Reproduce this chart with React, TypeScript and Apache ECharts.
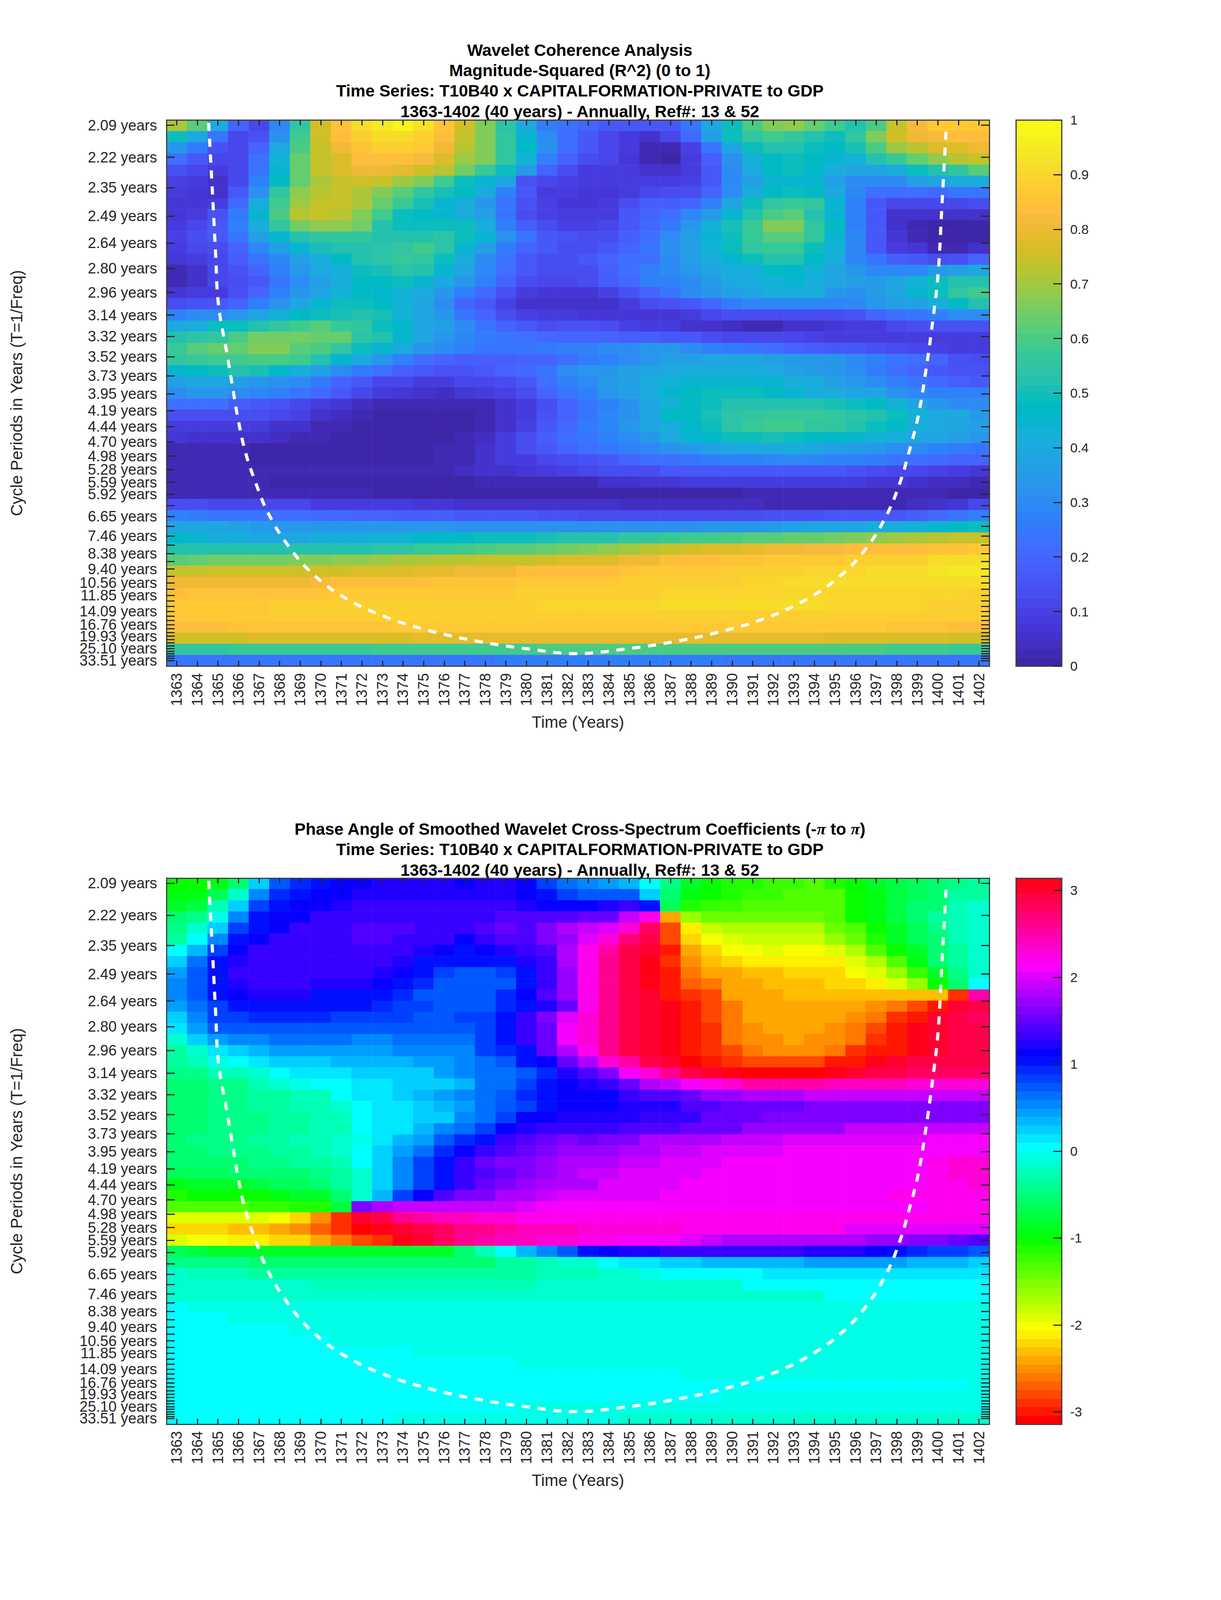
import React, { useEffect, useRef } from "react";
import * as echarts from "echarts";

const years = ["1363","1364","1365","1366","1367","1368","1369","1370","1371","1372","1373","1374","1375","1376","1377","1378","1379","1380","1381","1382","1383","1384","1385","1386","1387","1388","1389","1390","1391","1392","1393","1394","1395","1396","1397","1398","1399","1400","1401","1402"];
const periodLabels = ["2.09","2.22","2.35","2.49","2.64","2.80","2.96","3.14","3.32","3.52","3.73","3.95","4.19","4.44","4.70","4.98","5.28","5.59","5.92","6.27","6.65","7.05","7.46","7.91","8.38","8.88","9.40","9.96","10.56","11.19","11.85","12.55","13.30","14.09","14.93","15.82","16.76","17.76","18.81","19.93","21.11","22.37","23.70","25.10","26.59","28.17","29.85","31.62","33.51"];
const shownPeriods = ["2.09","2.22","2.35","2.49","2.64","2.80","2.96","3.14","3.32","3.52","3.73","3.95","4.19","4.44","4.70","4.98","5.28","5.59","5.92","6.65","7.46","8.38","9.40","10.56","11.85","14.09"];
const extraPeriodGroups = [["16.76","25.10"],["19.93","33.51"]];
const tickFrequencies = [0.477472,0.450674,0.425379,0.401505,0.37897,0.3577,0.337624,0.318675,0.300789,0.283905,0.267972,0.252932,0.238736,0.225337,0.21269,0.200753,0.189485,0.17885,0.168812,0.159338,0.150395,0.141953,0.133986,0.126466,0.119368,0.112668,0.106345,0.100376,0.094743,0.089425,0.084406,0.079669,0.075197,0.070976,0.066993,0.063233,0.059684,0.056334,0.053172,0.050188,0.047371,0.044712,0.042203,0.039835,0.037599,0.035488,0.033497,0.031617,0.029842];
const freqMax = 0.48184;
const freqMin = 0.02509;

const coneYears = [1364.55,1364.73,1364.89,1365.03,1365.43,1365.74,1365.95,1366.32,1366.83,1367.47,1368.4,1369.6,1371.2,1373.19,1375.32,1377.73,1380.13,1382.39,1384.79,1387.19,1389.58,1391.72,1393.72,1395.32,1396.52,1397.45,1398.11,1398.6,1399.05,1399.43,1399.75,1400.01,1400.19,1400.41];
const coneFreq = [0.4795,0.423,0.3697,0.3273,0.2877,0.256,0.2346,0.2053,0.1788,0.1522,0.1263,0.1024,0.082,0.066,0.0546,0.0456,0.0394,0.0356,0.0394,0.0456,0.0546,0.0659,0.082,0.1015,0.1238,0.1494,0.1762,0.2044,0.2346,0.2738,0.3138,0.3532,0.408,0.4763];

// Coherence, in hundredths, one row per cycle period (top to bottom)
const coherenceRows = [
[71,61,40,20,12,29,55,76,85,91,94,97,93,85,76,66,54,40,26,22,19,17,16,16,16,24,38,50,60,66,68,64,58,53,60,75,82,86,86,86],
[50,40,24,12,15,32,58,76,84,88,91,91,89,83,75,67,55,45,30,22,17,12,9,6,11,21,37,50,56,58,56,53,50,56,67,76,80,82,84,84],
[33,26,15,12,19,40,60,74,80,85,88,88,87,81,72,67,56,47,32,22,16,11,8,3,3,10,25,39,49,52,52,50,48,51,60,69,73,77,78,81],
[23,17,11,11,22,43,64,74,78,83,83,83,82,78,70,66,55,43,27,20,14,11,7,3,1,8,18,32,43,48,49,48,44,43,52,57,64,68,72,75],
[15,11,8,12,25,44,64,74,78,80,80,79,76,73,65,57,50,35,20,13,9,9,8,6,5,8,17,30,40,47,49,46,41,38,39,42,49,53,56,62],
[10,8,6,12,27,47,64,71,75,76,74,70,66,58,50,45,38,15,11,10,8,8,8,8,8,10,17,30,36,44,44,44,36,31,30,31,36,39,41,41],
[8,7,6,17,32,55,68,73,74,71,66,62,56,51,47,40,28,16,8,9,7,7,9,12,14,14,20,30,41,47,49,48,40,29,22,22,22,21,24,25],
[7,7,8,21,41,59,70,74,74,71,64,57,51,44,42,34,24,15,10,7,7,9,13,18,18,20,28,39,50,55,57,55,45,28,17,12,12,12,12,13],
[7,9,15,26,45,60,72,74,72,67,58,50,47,44,41,36,24,13,10,8,8,9,16,19,22,29,35,44,52,60,61,53,45,28,16,6,5,5,5,5],
[9,11,16,27,42,55,65,68,68,65,53,50,50,50,50,42,27,18,13,10,10,12,17,21,26,33,43,51,57,66,66,55,47,28,16,6,2,1,1,1],
[10,13,17,24,37,45,52,56,56,55,53,53,53,54,50,45,32,24,17,15,13,13,18,22,30,36,45,50,57,62,62,55,45,29,17,7,3,0,0,0],
[8,11,14,20,29,37,45,51,53,52,54,56,58,54,45,36,26,20,16,14,14,16,20,24,32,37,43,50,55,57,57,50,43,29,17,9,7,3,2,5],
[7,9,12,18,24,29,37,42,48,52,54,57,55,49,41,31,24,17,14,14,17,19,23,23,31,36,41,45,50,52,52,47,41,29,24,18,16,14,15,19],
[2,5,11,15,20,27,33,40,41,49,51,54,52,45,38,29,22,16,13,13,13,18,22,27,30,33,38,41,41,48,46,43,38,34,29,29,29,35,37,40],
[2,6,11,13,17,25,31,36,41,47,48,50,45,40,34,28,20,14,12,11,14,18,21,27,27,31,35,40,41,43,44,42,39,37,35,39,43,49,53,53],
[7,8,9,15,20,27,33,38,43,47,46,43,40,34,27,21,15,9,7,7,7,10,15,20,25,30,33,36,39,41,42,41,34,32,35,39,45,50,55,58],
[14,15,16,20,27,32,39,45,49,49,48,43,38,31,20,16,10,6,5,5,5,6,9,14,15,16,20,26,29,29,29,29,29,29,33,36,37,41,47,52],
[28,30,31,33,38,43,47,49,51,52,51,43,39,33,25,19,14,10,9,8,7,7,7,7,7,9,12,14,14,14,14,14,14,15,19,22,25,27,30,30],
[40,41,49,50,53,55,58,61,57,55,50,46,39,36,30,25,19,16,14,15,15,14,10,9,8,5,5,4,3,3,5,5,7,9,9,11,14,15,15,15],
[53,54,55,60,65,65,65,64,63,54,52,44,39,34,29,26,24,22,21,20,20,19,18,18,17,17,14,12,12,11,11,10,9,9,9,9,9,8,8,8],
[57,61,63,63,66,66,62,60,56,49,44,40,33,30,27,25,24,24,26,28,28,30,31,33,33,30,28,26,24,22,20,18,17,17,15,14,12,10,8,8],
[56,57,58,58,60,60,58,52,45,40,34,28,23,20,18,18,18,19,20,23,26,28,30,33,36,37,38,38,38,37,35,34,33,30,28,25,22,19,15,13],
[45,47,50,52,51,46,42,36,30,26,22,18,16,15,15,17,19,21,25,30,33,34,36,38,40,42,42,42,41,40,36,35,33,30,26,22,19,17,15,15],
[36,38,38,36,34,32,30,26,19,16,12,11,9,9,11,12,14,17,23,27,30,35,37,42,43,45,45,45,44,44,42,41,37,33,31,28,25,21,18,17],
[31,33,34,31,29,27,24,21,17,12,9,7,5,4,7,9,10,14,19,24,28,33,37,42,44,48,50,50,50,48,44,42,41,39,38,32,29,28,28,28],
[23,23,23,18,17,15,11,9,7,4,3,2,2,2,2,3,5,9,14,19,24,28,32,38,43,47,50,52,52,52,52,52,51,49,47,43,38,34,31,30],
[14,14,14,14,13,11,10,6,4,3,1,1,1,1,0,3,5,9,15,20,25,29,32,38,47,48,51,54,55,57,57,57,56,54,52,50,43,40,40,35],
[9,9,8,8,8,6,5,3,2,1,1,0,0,0,1,3,6,10,16,21,26,29,33,38,42,46,50,54,57,58,58,56,55,53,50,47,42,40,39,36],
[7,6,6,5,5,4,3,2,1,0,0,0,0,0,2,4,8,13,18,22,24,27,30,34,40,44,46,50,50,51,50,48,46,44,43,42,39,39,36,34],
[2,2,2,2,0,0,0,0,0,0,0,0,1,2,3,5,9,13,16,19,22,24,27,29,32,34,36,39,40,40,41,39,37,35,33,31,30,28,26,25],
[3,3,3,3,1,1,0,0,0,0,0,0,1,2,3,6,8,8,11,13,15,17,19,22,23,25,26,27,28,29,29,29,28,27,26,24,22,21,20,19],
[3,3,3,3,3,2,2,2,2,2,2,2,3,3,4,5,5,7,9,10,12,13,13,14,16,16,17,17,17,17,17,16,16,15,14,12,11,10,9,7],
[2,2,2,2,2,1,1,1,1,1,1,1,1,1,1,2,2,2,3,3,3,5,5,7,7,8,8,8,9,9,9,9,9,9,7,7,5,4,4,2],
[3,3,3,3,3,2,2,2,2,2,1,1,0,0,0,0,0,0,0,0,0,0,0,0,1,1,1,1,2,2,2,2,2,2,2,2,2,2,1,1],
[14,14,12,12,11,11,11,9,9,9,9,9,7,7,6,6,6,5,5,5,5,5,4,4,4,4,4,4,4,3,3,3,3,3,3,3,4,5,7,12],
[27,26,25,25,24,22,22,21,21,20,20,18,18,18,17,16,16,16,15,15,14,14,14,14,14,14,14,14,14,15,15,15,16,17,17,17,18,21,24,27],
[39,39,38,37,35,33,33,33,33,33,33,33,33,33,32,32,32,32,32,32,32,32,32,32,32,32,33,33,34,35,36,38,38,39,41,42,43,45,47,50],
[46,44,42,41,40,39,39,41,41,41,43,43,46,47,47,49,49,50,51,52,52,53,55,56,57,58,58,60,62,62,64,64,65,66,68,69,71,73,74,75],
[52,52,52,52,52,52,52,52,53,53,54,54,57,57,59,60,62,62,63,65,66,68,70,72,74,76,77,78,79,80,81,82,82,83,83,84,84,85,85,86],
[62,64,65,65,65,65,66,66,68,68,69,71,71,72,73,74,74,75,76,77,78,78,80,80,83,83,83,85,85,87,87,87,87,88,88,88,89,91,91,91],
[75,75,76,76,76,76,76,76,76,78,78,78,79,79,80,81,81,83,83,83,84,84,85,86,86,87,87,88,88,89,89,90,90,90,91,91,91,93,94,94],
[81,81,81,81,81,81,81,82,83,83,83,84,84,85,85,85,85,86,86,87,87,87,88,88,89,89,89,89,90,90,91,91,91,91,91,91,91,91,91,91],
[84,85,85,85,85,85,85,85,86,86,86,86,86,87,87,87,87,88,88,89,89,89,89,89,90,90,90,90,90,90,90,90,90,90,90,90,90,90,90,89],
[87,87,87,87,87,88,88,88,88,88,88,88,88,89,89,89,89,89,90,90,90,90,90,90,91,91,91,91,91,91,91,91,90,90,90,90,90,89,89,89],
[87,87,87,87,87,88,88,88,88,88,88,88,88,89,89,89,89,89,89,89,89,89,89,89,89,89,89,89,89,89,89,89,89,89,89,88,88,88,88,88],
[84,84,84,85,85,85,85,85,85,85,85,86,86,86,86,86,86,86,86,86,86,86,86,86,86,86,86,86,86,86,86,86,86,86,86,85,85,85,84,84],
[76,76,76,76,77,77,77,78,78,78,78,78,79,79,79,79,79,79,79,79,79,79,79,79,79,79,79,79,79,79,79,79,78,78,78,78,78,77,76,76],
[56,56,56,57,57,57,57,57,57,57,58,58,59,59,59,59,59,59,60,60,60,60,60,60,60,60,60,60,60,60,60,60,60,60,60,59,59,59,57,57],
[24,24,24,24,24,24,24,24,24,25,25,25,25,25,25,25,26,26,26,26,26,26,26,26,26,26,26,25,25,25,25,25,25,25,25,25,25,25,25,25],
];

// Phase angle in radians, one row per cycle period (top to bottom)
const phaseRows = [
[-1,-1,-.9,-.5,.2,.7,.95,1.05,1.15,1.15,1.25,1.25,1.25,1.2,1.15,1.2,1.25,1.15,.85,.6,.5,.4,.3,.02,-.45,-.85,-1,-1.1,-1.15,-1.2,-1.2,-1.3,-1.15,-1,-.85,-.7,-.6,-.55,-.45,-.35],
[-.9,-.9,-.6,-.1,.55,.95,1.05,1.15,1.15,1.25,1.25,1.25,1.25,1.25,1.25,1.25,1.25,1.15,1.05,.8,.75,.75,.75,.25,-.5,-.95,-1.05,-1.15,-1.25,-1.25,-1.35,-1.35,-1.3,-1.05,-.95,-.7,-.6,-.5,-.35,-.3],
[-.8,-.7,-.25,.25,.8,1.05,1.15,1.15,1.25,1.3,1.3,1.3,1.3,1.3,1.3,1.3,1.3,1.2,1.15,1.15,1.15,1.2,1.3,1.05,-.6,-1.15,-1.25,-1.25,-1.35,-1.35,-1.35,-1.35,-1.3,-1.05,-.95,-.7,-.55,-.5,-.25,-.15],
[-.5,-.4,-.05,.55,1.05,1.15,1.15,1.3,1.3,1.3,1.35,1.35,1.3,1.3,1.3,1.3,1.4,1.4,1.4,1.45,1.5,1.55,1.9,2.2,-2.4,-1.65,-1.45,-1.45,-1.45,-1.45,-1.45,-1.45,-1.35,-1.05,-.95,-.7,-.55,-.35,-.2,-.15],
[-.45,-.15,.25,.8,1.05,1.15,1.3,1.3,1.3,1.4,1.4,1.4,1.3,1.3,1.3,1.4,1.5,1.45,1.65,1.8,1.9,2,2.35,2.75,-2.75,-2.1,-1.8,-1.7,-1.7,-1.7,-1.7,-1.7,-1.45,-1.3,-1.05,-.85,-.6,-.4,-.2,-.15],
[-.3,.02,.5,1.05,1.15,1.3,1.3,1.3,1.3,1.45,1.45,1.35,1.35,1.35,1.1,1.3,1.4,1.4,1.6,1.7,2.05,2.35,2.7,2.9,-2.75,-2.25,-2,-1.9,-1.8,-1.8,-1.8,-1.8,-1.65,-1.4,-1.15,-.85,-.65,-.5,-.25,-.15],
[.02,.35,.85,1.15,1.3,1.3,1.3,1.3,1.3,1.3,1.3,1.3,1.2,1.15,1.05,1.1,1.2,1.3,1.45,1.8,2.25,2.55,2.85,3,-2.95,-2.45,-2.25,-2.05,-2.05,-1.95,-2.05,-2.05,-1.95,-1.75,-1.35,-1.05,-.8,-.55,-.35,-.15],
[.2,.6,1,1.2,1.3,1.3,1.3,1.3,1.3,1.3,1.3,1.2,1.05,1,1,1,1,1.2,1.35,1.8,2.2,2.6,2.85,3.14,-2.85,-2.55,-2.35,-2.25,-2.1,-2.1,-2.1,-2.1,-2.1,-1.9,-1.75,-1.35,-.9,-.55,-.35,-.15],
[.4,.75,1.05,1.3,1.35,1.35,1.35,1.35,1.35,1.35,1.25,1.1,1,.85,.75,.75,.8,1.05,1.3,1.75,2.2,2.6,2.85,3.14,-3,-2.6,-2.45,-2.4,-2.3,-2.3,-2.2,-2.2,-2.2,-2.05,-1.9,-1.6,-1.2,-.8,-.4,-.15],
[.5,.75,1.05,1.25,1.35,1.35,1.35,1.25,1.25,1.25,1.15,1.05,.9,.7,.7,.7,.75,1.05,1.3,1.75,2.2,2.6,2.85,3.05,-2.95,-2.7,-2.6,-2.45,-2.4,-2.35,-2.35,-2.35,-2.2,-2.2,-2.1,-1.95,-1.6,-1.05,-.5,.02],
[.5,.75,1.05,1.1,1.25,1.25,1.25,1.05,1.05,1.05,1,.9,.75,.7,.7,.7,.9,1.15,1.45,1.75,2.2,2.6,2.85,2.95,-3,-2.85,-2.75,-2.45,-2.4,-2.4,-2.3,-2.3,-2.3,-2.3,-2.3,-2.3,-2.3,-2.3,-2.9,2.5],
[.4,.65,.8,1.05,1.05,1.05,1.05,1.05,1.05,1.05,.95,.8,.8,.75,.75,.75,.95,1.05,1.25,1.5,2.2,2.6,2.85,3,3.14,-2.95,-2.75,-2.6,-2.45,-2.4,-2.4,-2.4,-2.4,-2.4,-2.55,-2.65,-2.8,-3,3,2.9],
[.25,.5,.8,.85,.95,.95,.95,.95,.85,.85,.85,.85,.7,.7,.8,.85,1.05,1.3,1.6,2,2.3,2.6,2.85,3,3.14,-2.95,-2.75,-2.6,-2.45,-2.4,-2.4,-2.4,-2.4,-2.5,-2.65,-2.9,-3,2.95,2.85,2.8],
[.1,.45,.7,.7,.7,.7,.7,.7,.7,.7,.7,.7,.7,.7,.75,.85,1.05,1.3,1.55,2.1,2.3,2.6,2.85,3,3.14,-2.95,-2.85,-2.65,-2.5,-2.4,-2.4,-2.4,-2.55,-2.65,-2.75,-2.95,3.14,2.95,2.85,2.85],
[-.15,.25,.45,.55,.55,.6,.6,.6,.6,.5,.5,.6,.6,.65,.65,.85,1,1.3,1.55,2.1,2.3,2.6,2.85,3,3.14,-2.95,-2.85,-2.65,-2.55,-2.55,-2.45,-2.55,-2.55,-2.65,-2.85,-3,3.14,2.95,2.85,2.85],
[-.3,-.1,.1,.25,.3,.45,.45,.45,.45,.45,.45,.5,.5,.55,.55,.8,.9,1.05,1.55,1.85,2.2,2.6,2.85,2.95,3.14,-2.95,-2.85,-2.75,-2.65,-2.55,-2.55,-2.55,-2.65,-2.9,-2.95,-3,3.14,2.95,2.85,2.85],
[-.3,-.2,-.05,.02,.15,.2,.2,.2,.3,.3,.3,.3,.4,.4,.5,.6,.7,1,1.1,1.55,1.85,2.3,2.55,2.85,3,-3.05,-2.95,-2.85,-2.75,-2.75,-2.75,-2.75,-2.95,-3,3.14,2.95,2.9,2.9,2.9,2.85],
[-.45,-.4,-.25,-.2,-.15,.02,.1,.1,.1,.2,.2,.25,.25,.4,.5,.6,.65,.7,.95,1.25,1.4,1.65,2.1,2.35,2.65,2.85,3,3.14,-3.05,-3.05,-3.05,-3.05,3.14,2.95,2.85,2.85,2.75,2.75,2.75,2.75],
[-.55,-.55,-.4,-.4,-.25,-.15,-.02,.02,.08,.1,.1,.2,.2,.28,.35,.6,.65,.85,1,1.1,1.25,1.3,1.5,1.85,1.95,2.1,2.25,2.35,2.5,2.55,2.55,2.55,2.4,2.4,2.4,2.4,2.35,2.35,2.35,2.35],
[-.55,-.55,-.45,-.45,-.35,-.35,-.25,-.25,.02,.1,.1,.2,.35,.4,.5,.65,.7,.9,1,1.15,1.1,1.15,1.35,1.45,1.45,1.55,1.7,1.7,1.85,1.85,1.85,1.9,1.95,1.95,1.95,1.95,1.95,1.95,1.95,1.95],
[-.55,-.55,-.45,-.45,-.35,-.35,-.25,-.25,-.1,.02,.1,.1,.2,.35,.45,.65,.7,.85,1.05,1.15,1.1,1.15,1.25,1.25,1.25,1.4,1.4,1.5,1.5,1.5,1.5,1.6,1.6,1.6,1.6,1.6,1.6,1.6,1.6,1.6],
[-.55,-.55,-.45,-.45,-.4,-.3,-.3,-.2,-.2,.02,.1,.15,.2,.25,.5,.6,.85,1.1,1.15,1.2,1.2,1.25,1.25,1.35,1.35,1.35,1.5,1.5,1.5,1.6,1.6,1.6,1.6,1.6,1.6,1.6,1.6,1.6,1.6,1.6],
[-.55,-.55,-.45,-.45,-.4,-.3,-.3,-.2,-.2,.02,.1,.15,.3,.5,.65,.8,1.1,1.2,1.3,1.35,1.35,1.35,1.45,1.45,1.45,1.55,1.55,1.55,1.75,1.75,1.75,1.75,1.75,1.9,1.9,1.9,1.9,1.9,1.9,1.9],
[-.5,-.45,-.4,-.4,-.35,-.3,-.2,-.2,-.1,-.05,.1,.3,.45,.7,.95,1.05,1.3,1.45,1.55,1.65,1.5,1.65,1.65,1.8,1.8,1.8,1.8,1.95,1.95,1.95,2.05,2.05,2.05,2.05,2.05,2.05,2.05,2.1,2.1,2.1],
[-.5,-.5,-.45,-.45,-.4,-.35,-.3,-.25,-.15,.02,.25,.4,.6,.9,1.1,1.3,1.45,1.55,1.6,1.7,1.7,1.75,1.8,1.85,1.9,1.9,2,2.05,2.05,2.05,2.1,2.1,2.1,2.1,2.1,2.1,2.1,2.1,2.15,2.15],
[-.55,-.55,-.5,-.5,-.45,-.45,-.35,-.3,-.2,.02,.2,.5,.8,1.05,1.3,1.5,1.6,1.65,1.75,1.8,1.85,1.85,1.9,1.95,2,2,2.05,2.1,2.1,2.1,2.1,2.1,2.1,2.1,2.1,2.15,2.15,2.2,2.3,2.3],
[-.65,-.6,-.6,-.55,-.55,-.5,-.5,-.45,-.3,-.1,.25,.55,.8,1.05,1.3,1.4,1.55,1.65,1.7,1.85,1.9,1.9,2,2,2.05,2.05,2.1,2.1,2.1,2.1,2.1,2.15,2.15,2.15,2.15,2.15,2.15,2.2,2.3,2.3],
[-.9,-.85,-.85,-.8,-.75,-.65,-.6,-.55,-.35,-.1,.2,.5,.8,1.05,1.3,1.5,1.6,1.7,1.8,1.85,1.85,2,2,2.05,2.05,2.1,2.1,2.1,2.1,2.1,2.1,2.1,2.1,2.15,2.15,2.15,2.15,2.2,2.2,2.35],
[-1.1,-1.05,-1.05,-1,-1,-.9,-.85,-.8,-.5,-.1,.3,.8,1.1,1.45,1.6,1.65,1.85,1.85,1.9,2,2,2,2,2.05,2.1,2.15,2.15,2.15,2.15,2.15,2.15,2.15,2.15,2.15,2.15,2.2,2.2,2.2,2.25,2.25],
[-1.35,-1.35,-1.35,-1.3,-1.25,-1.2,-1.1,-1.1,-.7,1.6,1.85,1.95,1.95,1.95,1.95,1.95,1.95,2.05,2.1,2.1,2.1,2.1,2.1,2.1,2.1,2.1,2.1,2.1,2.1,2.1,2.1,2.1,2.1,2.15,2.15,2.15,2.15,2.2,2.25,2.25],
[-1.95,-1.95,-1.95,-1.95,-1.95,-2.05,-2.25,-2.55,-2.85,3,2.85,2.65,2.5,2.45,2.4,2.35,2.35,2.25,2.25,2.2,2.2,2.2,2.2,2.2,2.2,2.2,2.2,2.2,2.2,2.2,2.2,2.2,2.2,2.2,2.2,2.2,2.2,2.2,2.2,2.2],
[-2.25,-2.25,-2.25,-2.35,-2.35,-2.45,-2.55,-2.7,-2.85,-3.05,3.14,3,2.85,2.75,2.65,2.6,2.5,2.45,2.45,2.4,2.35,2.35,2.3,2.3,2.3,2.25,2.2,2.2,2.2,2.2,2.2,2.2,2.2,2,2,2,2,2,2,2],
[-1.95,-2,-2.05,-2.1,-2.1,-2.2,-2.25,-2.4,-2.6,-2.75,-2.9,3.14,3,2.8,2.65,2.55,2.45,2.4,2.35,2.3,2.25,2.2,2.15,2.1,2.1,2,1.95,1.85,1.85,1.85,1.85,1.85,1.85,1.85,1.75,1.75,1.65,1.6,1.5,1.45],
[-.65,-.75,-.8,-.8,-.85,-.85,-.85,-.85,-.85,-.85,-.85,-.8,-.8,-.8,-.55,-.2,.02,.3,.55,.75,1.05,1.1,1.2,1.2,1.3,1.3,1.3,1.3,1.3,1.3,1.3,1.25,1.2,1.2,1.15,1.05,.95,.85,.8,.7],
[-.4,-.45,-.45,-.45,-.5,-.5,-.5,-.5,-.5,-.5,-.5,-.5,-.5,-.5,-.5,-.5,-.3,-.3,-.25,-.15,-.1,.02,.1,.15,.25,.25,.3,.3,.35,.35,.35,.4,.4,.45,.45,.45,.35,.35,.3,.2],
[-.15,-.2,-.2,-.2,-.3,-.3,-.3,-.3,-.3,-.3,-.35,-.35,-.35,-.35,-.35,-.35,-.3,-.3,-.25,-.2,-.2,-.1,-.1,-.05,.02,.02,.05,.05,.05,.1,.1,.1,.15,.15,.15,.15,.15,.15,.15,.1],
[-.15,-.15,-.15,-.15,-.15,-.15,-.15,-.25,-.25,-.25,-.25,-.25,-.25,-.25,-.25,-.25,-.25,-.25,-.15,-.15,-.15,-.15,-.15,-.15,-.15,-.15,-.15,-.1,.02,.02,.02,.02,.02,.02,.02,.02,.02,.02,.02,.02],
[-.1,-.1,-.1,-.1,-.1,-.1,-.1,-.1,-.1,-.1,-.1,-.1,-.1,-.1,-.1,-.1,-.1,-.1,-.1,-.1,-.1,-.1,-.1,-.1,-.1,-.1,-.1,-.1,-.1,-.1,-.1,-.1,.02,.02,.02,.02,.02,.02,.02,.02],
[.02,-.05,-.05,-.05,-.05,-.05,-.05,-.05,-.05,-.05,-.05,-.05,-.05,-.05,-.05,-.05,-.05,-.05,-.05,-.05,-.05,-.05,-.05,-.05,-.05,-.05,-.05,-.05,-.05,-.05,-.05,-.05,-.05,-.05,-.05,-.05,-.05,-.05,-.05,-.05],
[.02,.02,.02,-.05,-.05,-.05,-.05,-.05,-.05,-.05,-.05,-.05,-.05,-.05,-.05,-.05,-.05,-.05,-.05,-.05,-.05,-.05,-.05,-.05,-.05,-.05,-.05,-.05,-.05,-.05,-.05,-.05,-.05,-.05,-.05,-.05,-.05,-.05,-.05,-.05],
[.02,.02,.02,.02,.02,.02,-.05,-.05,-.05,-.05,-.05,-.05,-.05,-.05,-.05,-.05,-.05,-.05,-.05,-.05,-.05,-.05,-.05,-.05,-.05,-.05,-.05,-.05,-.05,-.05,-.05,-.05,-.05,-.05,-.05,-.05,-.05,-.05,-.05,-.05],
[.02,.02,.02,.02,.02,.02,.02,.02,-.05,-.05,-.05,-.05,-.05,-.05,-.05,-.05,-.05,-.05,-.05,-.05,-.05,-.05,-.05,-.05,-.05,-.05,-.05,-.05,-.05,-.05,-.05,-.05,-.05,-.05,-.05,-.05,-.05,-.05,-.05,-.05],
[.02,.02,.02,.02,.02,.02,.02,.02,.02,.02,.02,.02,-.05,-.05,-.05,-.05,-.05,-.05,-.05,-.05,-.05,-.05,-.05,-.05,-.05,-.05,-.05,-.05,-.05,-.05,-.05,-.05,-.05,-.05,-.05,-.05,-.05,-.05,-.05,-.05],
[.02,.02,.02,.02,.02,.02,.02,.02,.02,.02,.02,.02,.02,.02,.02,.02,.02,-.05,-.05,-.05,-.05,-.05,-.05,-.05,-.05,-.05,-.05,-.05,-.05,-.05,-.05,-.05,-.05,-.05,-.05,-.05,-.05,-.05,-.05,-.05],
[.02,.02,.02,.02,.02,.02,.02,.02,.02,.02,.02,.02,.02,.02,.02,.02,.02,.02,.02,.02,.02,.02,.02,.02,.02,-.05,-.05,-.05,-.05,-.05,-.05,-.05,-.05,-.05,-.05,-.05,-.05,-.05,-.05,-.05],
[.02,.02,.02,.02,.02,.02,.02,.02,.02,.02,.02,.02,.02,.02,.02,.02,.02,.02,.02,.02,.02,.02,.02,.02,.02,.02,.02,.02,.02,.02,.02,.02,.02,.02,.02,.02,.02,.02,.02,-.05],
[.02,.02,.02,.02,.02,.02,.02,.02,.02,.02,.02,.02,.02,.02,.02,.02,.02,.02,.02,.02,.02,.02,.02,.02,.02,.02,.02,-.05,-.05,-.05,-.05,-.05,-.05,-.05,-.05,-.05,-.05,-.05,-.05,-.05],
[.02,.02,.02,.02,.02,.02,.02,.02,.02,.02,.02,.02,.02,.02,.02,.02,.02,-.05,-.05,-.05,-.05,-.05,-.05,-.05,-.05,-.05,-.05,-.05,-.05,-.05,-.05,-.05,-.05,-.05,-.05,-.05,-.05,-.05,-.05,-.05],
[.02,.02,.02,.02,.02,.02,.02,.02,.02,.02,.02,-.05,-.05,-.05,-.05,-.05,-.05,-.05,-.05,-.05,-.05,-.05,-.15,-.15,-.15,-.15,-.15,-.15,-.15,-.15,-.15,-.15,-.15,-.15,-.15,-.15,-.15,-.15,-.15,-.15],
];

const parulaRgb = [
[.2422,.1504,.6603],[.2504,.165,.7076],[.2578,.1818,.7511],[.2647,.1978,.7952],[.2706,.2147,.8364],[.2751,.2342,.871],[.2783,.2559,.8991],[.2803,.2782,.9221],
[.2813,.3006,.9414],[.281,.3228,.9579],[.2795,.3447,.9717],[.276,.3667,.9829],[.2699,.3892,.9906],[.2602,.4123,.9952],[.244,.4358,.9988],[.2206,.4603,.9973],
[.1963,.4847,.9892],[.1834,.5074,.9798],[.1786,.5289,.9682],[.1764,.5499,.952],[.1687,.5703,.9359],[.154,.5902,.9218],[.146,.6091,.9079],[.138,.6276,.8973],
[.1248,.6459,.8883],[.1113,.6635,.8763],[.0952,.6798,.8598],[.0689,.6948,.8394],[.0297,.7082,.8163],[.0036,.7203,.7917],[.0067,.7312,.766],[.0433,.7411,.7394],
[.0964,.75,.712],[.1408,.7584,.6842],[.1717,.767,.6554],[.1938,.7758,.6251],[.2161,.7843,.5923],[.247,.7918,.5567],[.2906,.7973,.5188],[.3406,.8008,.4789],
[.3909,.8029,.4354],[.4456,.8024,.3909],[.5044,.7993,.348],[.5616,.7942,.3045],[.6174,.7876,.2612],[.672,.7793,.2227],[.7242,.7698,.191],[.7738,.7598,.1646],
[.8203,.7498,.1535],[.8634,.7406,.1596],[.9035,.733,.1774],[.9393,.7288,.21],[.9728,.7298,.2394],[.9956,.7434,.2371],[.997,.7659,.2199],[.9952,.7893,.2028],
[.9892,.8136,.1885],[.9786,.8386,.1766],[.9676,.8639,.1643],[.961,.889,.1537],[.9597,.9135,.1423],[.9628,.9373,.1265],[.9691,.9606,.1064],[.9769,.9839,.0805],
];
const parulaColors = parulaRgb.map((c) => `rgb(${c.map((v) => Math.round(v * 255)).join(",")})`);
const hsvColors = parulaRgb.map((_, i) => `hsl(${(i * 360) / 64},100%,50%)`);

const FONT = '"Liberation Sans", Arial, sans-serif';
const INK = "#262626";
const LEVELS = 64;
const FULL_HEIGHT = 6252;
const PLOT_LEFT = 426;
const PLOT_WIDTH = 2106;
const BAR_LEFT = 2600;
const BAR_WIDTH = 117;
const CENTER_X = PLOT_LEFT + PLOT_WIDTH / 2;

function nearestPeriod(v: number) {
  let best = 0;
  tickFrequencies.forEach((f, i) => {
    if (Math.abs(f - v) < Math.abs(tickFrequencies[best] - v)) best = i;
  });
  return `${periodLabels[best]} years`;
}

function addPanel(o: any, sy: number, top: number, rows: number[][], colors: string[], lo: number, hi: number, barTicks: number[]) {
  const plotHeight = 2134 * sy;
  const frame = { show: true, onZero: false, lineStyle: { color: "#404040", width: 3 } };
  const tick = { show: true, inside: true, length: 21, lineStyle: { color: INK, width: 3 } };
  const xTick = { ...tick, length: 21 * sy };
  const label = { color: INK, fontFamily: FONT, fontSize: 58 * sy };
  const noTick = { show: false };
  const noLabel = { show: false };
  const noSplit = { show: false };
  const g = o.grid.length;
  const plotRect = { left: PLOT_LEFT, top, width: PLOT_WIDTH, height: plotHeight };
  const barRect = { left: BAR_LEFT, top, width: BAR_WIDTH, height: plotHeight };
  o.grid.push({ ...plotRect }, { ...plotRect }, { ...barRect }, { ...barRect });
  const xi = o.xAxis.length;
  const yi = o.yAxis.length;
  const barCats = colors.map((_, i) => String(i));
  const frameAxis = (gridIndex: number, min: number, max: number, position: string) => ({
    type: "value", gridIndex, min, max, position, z: 10,
    axisLine: frame, axisTick: noTick, axisLabel: noLabel, splitLine: noSplit,
  });
  const periodFreqs = (list: string[]) => tickFrequencies.filter((_, i) => list.includes(periodLabels[i]));
  o.xAxis.push(
    {
      type: "category", gridIndex: g, data: years, position: "bottom", z: 10,
      axisLine: frame,
      axisTick: { ...xTick, alignWithLabel: true, interval: 0 },
      axisLabel: { ...label, interval: 0, rotate: 90, margin: 27 * sy },
      splitLine: noSplit,
      name: "Time (Years)", nameLocation: "middle", nameGap: 187 * sy,
      nameTextStyle: { color: INK, fontFamily: FONT, fontSize: 64 * sy },
    },
    { type: "value", gridIndex: g + 1, min: 1362.5, max: 1402.5, position: "bottom", show: false },
    {
      type: "value", gridIndex: g + 1, min: 1362.5, max: 1402.5, position: "top", z: 10,
      axisLine: frame,
      axisTick: { ...xTick, customValues: years.map(Number) },
      axisLabel: noLabel, splitLine: noSplit,
    },
    { type: "category", gridIndex: g + 2, data: ["bar"], show: false },
    frameAxis(g + 3, 0, 1, "bottom"),
    frameAxis(g + 3, 0, 1, "top")
  );
  o.yAxis.push(
    { type: "category", gridIndex: g, data: periodLabels, inverse: true, show: false },
    {
      type: "value", gridIndex: g + 1, min: freqMin, max: freqMax, position: "left", z: 10,
      axisLine: frame,
      axisTick: { ...tick, customValues: tickFrequencies },
      axisLabel: {
        ...label, margin: 24,
        customValues: periodFreqs(shownPeriods),
        formatter: (v: number) => nearestPeriod(v),
      },
      splitLine: noSplit,
      name: "Cycle Periods in Years (T=1/Freq)", nameLocation: "middle", nameGap: 383 - 32 * sy,
      nameTextStyle: { color: INK, fontFamily: FONT, fontSize: 64 * sy },
    },
    {
      type: "value", gridIndex: g + 1, min: freqMin, max: freqMax, position: "right", z: 10,
      axisLine: frame,
      axisTick: { ...tick, customValues: tickFrequencies },
      axisLabel: noLabel, splitLine: noSplit,
    },
    { type: "category", gridIndex: g + 2, data: barCats, show: false },
    frameAxis(g + 3, lo, hi, "left"),
    {
      type: "value", gridIndex: g + 3, min: lo, max: hi, position: "right", z: 10,
      axisLine: frame,
      axisTick: { ...tick, customValues: barTicks },
      axisLabel: { ...label, fontSize: 52 * sy, margin: 22, customValues: barTicks, lineHeight: 40 * sy, formatter: (v: number) => String(v) },
      splitLine: noSplit,
    }
  );
  extraPeriodGroups.forEach((group) => {
    const extra = o.grid.length;
    o.grid.push({ ...plotRect });
    o.xAxis.push({ type: "value", gridIndex: extra, min: 0, max: 1, position: "bottom", show: false });
    o.yAxis.push({
      type: "value", gridIndex: extra, min: freqMin, max: freqMax, position: "left", z: 10,
      axisLine: { show: false }, axisTick: noTick, splitLine: noSplit,
      axisLabel: { ...label, margin: 24, customValues: periodFreqs(group), formatter: (v: number) => nearestPeriod(v) },
    });
  });
  const s = o.series.length;
  const step = (hi - lo) / LEVELS;
  o.series.push(
    {
      type: "heatmap", xAxisIndex: xi, yAxisIndex: yi,
      data: rows.flatMap((row, r) => row.map((v, c) => [c, r, v])),
      itemStyle: { borderWidth: 0 }, emphasis: { disabled: true }, z: 2,
    },
    {
      type: "line", xAxisIndex: xi + 1, yAxisIndex: yi + 1, smooth: 0.4, showSymbol: false, z: 12,
      data: coneYears.map((y, i) => [y, coneFreq[i]]),
      lineStyle: { color: "#ffffff", width: 8, type: [32 * sy, 30 * sy] },
      silent: true,
    },
    {
      type: "heatmap", xAxisIndex: xi + 3, yAxisIndex: yi + 3,
      data: colors.map((_, i) => [0, i, lo + (i + 0.5) * step]),
      itemStyle: { borderWidth: 0 }, emphasis: { disabled: true }, z: 2,
    }
  );
  o.visualMap.push({
    type: "piecewise", show: false, seriesIndex: [s, s + 2], dimension: 2,
    pieces: colors.map((color, i) => ({ min: lo + i * step, max: lo + (i + 1) * step, color })),
  });
}

function buildOption(sy: number) {
  const o: any = { animation: false, backgroundColor: "#ffffff", grid: [], xAxis: [], yAxis: [], series: [], visualMap: [] };
  addPanel(o, sy, 469 * sy, coherenceRows.map((r) => r.map((v) => v / 100)), parulaColors, 0, 1, [0, 0.1, 0.2, 0.3, 0.4, 0.5, 0.6, 0.7, 0.8, 0.9, 1]);
  addPanel(o, sy, 3431 * sy, phaseRows, hsvColors, -Math.PI, Math.PI, [-3, -2, -1, 0, 1, 2, 3]);
  const size = 65 * sy;
  const greek = { pi: { fontFamily: '"Liberation Serif", serif', fontStyle: "italic", fontWeight: "bold", fontSize: size, color: "#000000" } };
  const line = (text: string, centerY: number, rich?: any) => ({
    text, left: CENTER_X, top: centerY * sy - size * 0.52, textAlign: "center",
    textStyle: { color: "#000000", fontFamily: FONT, fontSize: size, fontWeight: "bold", rich },
  });
  o.title = [
    line("Wavelet Coherence Analysis", 188),
    line("Magnitude-Squared (R^2) (0 to 1)", 268),
    line("Time Series: T10B40 x CAPITALFORMATION-PRIVATE to GDP", 348),
    line("1363-1402 (40 years) - Annually, Ref#: 13 & 52", 428),
    line("Phase Angle of Smoothed Wavelet Cross-Spectrum Coefficients (-{pi|π} to {pi|π})", 3232, greek),
    line("Time Series: T10B40 x CAPITALFORMATION-PRIVATE to GDP", 3312),
    line("1363-1402 (40 years) - Annually, Ref#: 13 & 52", 3392),
  ];
  return o;
}

export default function App() {
  const ref = useRef<HTMLDivElement>(null);
  useEffect(() => {
    document.body.style.margin = "0";
    const sy = Math.min(1, window.innerHeight / FULL_HEIGHT);
    ref.current!.style.height = `${FULL_HEIGHT * sy}px`;
    const chart = echarts.init(ref.current!, undefined, { renderer: "svg" });
    chart.setOption(buildOption(sy));
    return () => chart.dispose();
  }, []);
  return <div ref={ref} style={{ width: 3125, height: FULL_HEIGHT }} />;
}
